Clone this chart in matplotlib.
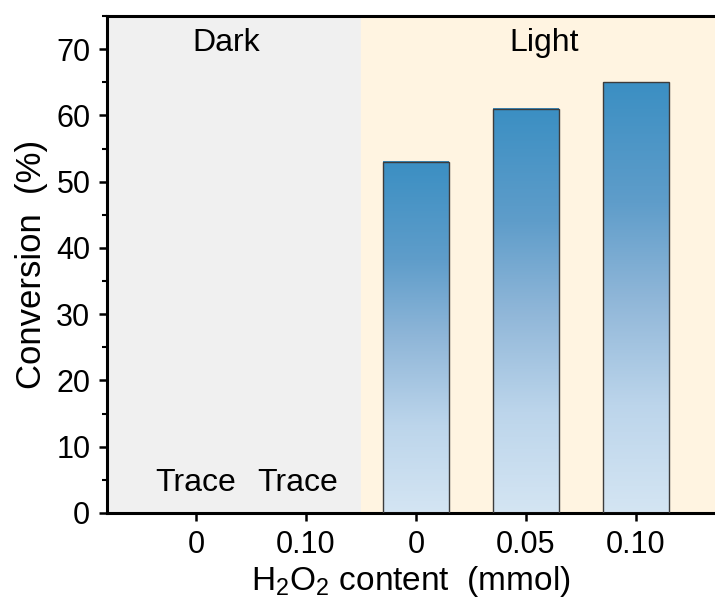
import numpy as np
import matplotlib.pyplot as plt
from matplotlib.colors import LinearSegmentedColormap
from matplotlib.ticker import MultipleLocator

plt.rcParams['font.family'] = ['Liberation Sans', 'DejaVu Sans']
plt.rcParams['mathtext.fontset'] = 'custom'
plt.rcParams['mathtext.rm'] = 'Liberation Sans'
plt.rcParams['mathtext.it'] = 'Liberation Sans:italic'

# H2O2 content for each run, dark runs first then light runs
tick_labels = ['0', '0.10', '0', '0.05', '0.10']
conditions = ['Dark', 'Dark', 'Light', 'Light', 'Light']
conversion = [0, 0, 53, 61, 65]   # dark runs only reached trace levels
trace_label = 'Trace'

x = np.arange(len(tick_labels))
bar_w = 0.6

# blue vertical gradient, light at the bottom, dark at the top
grad = LinearSegmentedColormap.from_list(
    'bar_grad',
    [(0.0, '#d4e5f3'), (0.25, '#bcd5eb'), (0.5, '#8fb6d8'),
     (0.72, '#5f9dca'), (1.0, '#3b8fc3')])

fig = plt.figure(figsize=(7.15, 6.03), dpi=100)
ax = fig.add_axes([107 / 715, 1 - 513 / 603, 1 - 107 / 715, (513 - 16) / 603])

xmin, xmax = -0.81, 4.72
ax.set_xlim(xmin, xmax)

# shaded regions for dark / light conditions
split = 1.5
ax.axvspan(xmin, split, color='#f0f0f0', zorder=0)
ax.axvspan(split, xmax, color='#fff4e1', zorder=0)

trace_dx = [0, -0.08]
k = 0
for xi, val, cond in zip(x, conversion, conditions):
    if val > 0:
        g = np.linspace(0, 1, 256).reshape(-1, 1)
        ax.imshow(g, cmap=grad, origin='lower', aspect='auto',
                  extent=(xi - bar_w / 2, xi + bar_w / 2, 0, val), zorder=2)
        ax.bar(xi, val, width=bar_w, facecolor='none',
               edgecolor='#3c3c3c', linewidth=1.0, zorder=3)
    else:
        ax.text(xi + trace_dx[k], 4.5, trace_label, ha='center', va='center',
                fontsize=23)
        k += 1

ax.text(0.27, 71, 'Dark', ha='center', va='center', fontsize=23)
ax.text(3.17, 71, 'Light', ha='center', va='center', fontsize=23)

ax.set_xticks(x)
ax.set_xticklabels(tick_labels)
ax.yaxis.set_major_locator(MultipleLocator(10))
ax.yaxis.set_minor_locator(MultipleLocator(5))
ax.set_yticks(range(0, 80, 10))
ax.set_ylim(0, 75)

ax.tick_params(axis='both', which='major', direction='out', length=6,
               width=1.8, labelsize=22, pad=6)
ax.tick_params(axis='y', which='minor', direction='out', length=3.5, width=1.5)
ax.tick_params(axis='x', which='minor', bottom=False)

for side in ['left', 'bottom', 'top']:
    ax.spines[side].set_linewidth(2.2)
ax.spines['right'].set_visible(False)

ax.set_ylabel('Conversion  (%)', fontsize=25, labelpad=6)
ax.set_xlabel(r'H$_2$O$_2$ content  (mmol)', fontsize=24, labelpad=3)

fig.savefig('out.png', dpi=100)
